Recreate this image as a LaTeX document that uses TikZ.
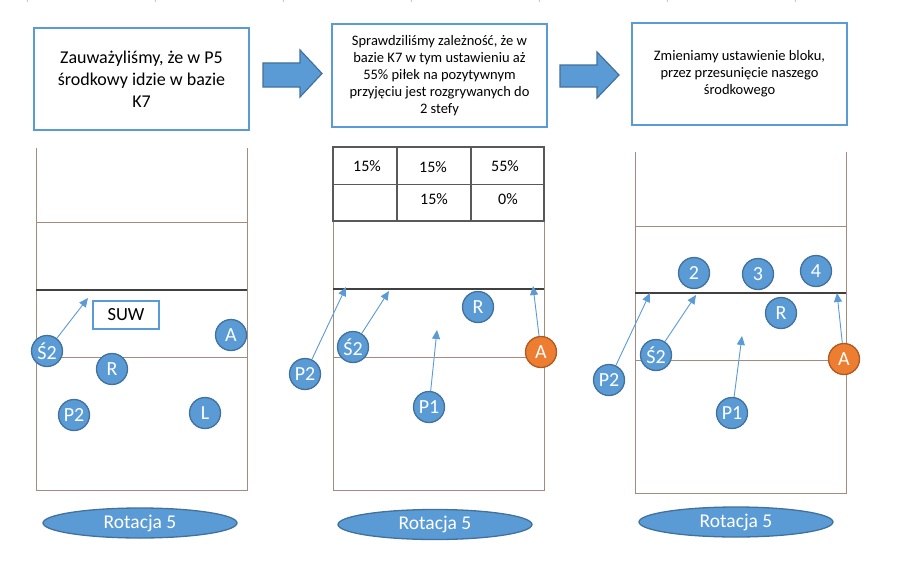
\documentclass[tikz,border=0pt]{standalone}
\usepackage{fontspec}
\setmainfont{Carlito}
\usetikzlibrary{arrows.meta,shapes.geometric}
\definecolor{pblue}{HTML}{5B9BD5}
\definecolor{pbord}{HTML}{41719C}
\definecolor{porange}{HTML}{ED7D31}
\definecolor{pobord}{HTML}{AE5A21}
\definecolor{courtc}{HTML}{A38C7E}
\definecolor{netc}{HTML}{404040}
\definecolor{tabc}{HTML}{595959}
\begin{document}
\begin{tikzpicture}[x=1pt,y=-1pt,
  player/.style={circle,fill=pblue,draw=pbord,line width=1.3pt,minimum size=31pt,inner sep=0pt,text=white,font=\fontsize{20}{20}\selectfont},
  opp/.style={player,fill=porange,draw=pobord},
  infobox/.style={draw=pblue,line width=1.8pt,fill=white,align=center,inner sep=0pt},
  bigtext/.style={font=\fontsize{18}{22}\selectfont},
  smalltext/.style={font=\fontsize{14.5}{17}\selectfont},
  courtline/.style={draw=courtc,line width=1pt},
  netline/.style={draw=netc,line width=1.8pt},
  tabline/.style={draw=tabc,line width=1.2pt},
  celltext/.style={font=\fontsize{16}{16}\selectfont,inner sep=0pt},
  movearrow/.style={draw=pblue,line width=0.9pt,-{Triangle[length=9pt,width=8pt]}},
  blockarrow/.style={fill=pblue,draw=pbord,line width=1.2pt,line join=miter},
  rotation/.style={ellipse,fill=pblue,draw=pbord,line width=1.3pt,minimum width=194pt,minimum height=30pt,inner sep=0pt,text=white,font=\fontsize{19.5}{19.5}\selectfont},
  suwbox/.style={draw=pblue,line width=1.5pt,minimum width=66pt,minimum height=28pt,inner sep=0pt,font=\fontsize{18.5}{18.5}\selectfont},
  tick/.style={draw=gray!45,line width=0.6pt}
]
\useasboundingbox (0,0) rectangle (912,586);
\fill[white] (0,0) rectangle (912,586);

% faint ruler ticks
\foreach \tx in {27,155,283,411,539,667,795}{\draw[tick] (\tx,0) -- (\tx,2.5);}

% ---------- info boxes ----------
\node[infobox,bigtext,minimum width=215pt,minimum height=102pt] (box1) at (141.5,79)
  {Zauważyliśmy, że w P5\\środkowy idzie w bazie\\K7};
\node[infobox,smalltext,minimum width=215pt,minimum height=103pt] (box2) at (439.5,75.5)
  {Sprawdziliśmy zależność, że w\\bazie K7 w tym ustawieniu aż\\55\% piłek na pozytywnym\\przyjęciu jest rozgrywanych do\\2 stefy};
\node[infobox,smalltext,minimum width=215pt,minimum height=102pt] (box3) at (739.5,74)
  {Zmieniamy ustawienie bloku,\\przez przesunięcie naszego\\środkowego};

% ---------- block arrows ----------
\filldraw[blockarrow] (263,63) -- (300,63) -- (300,50) -- (322,73.5) -- (300,97) -- (300,87) -- (263,87) -- cycle;
\filldraw[blockarrow] (560,65) -- (597,65) -- (597,52) -- (619,75) -- (597,98) -- (597,87) -- (560,87) -- cycle;

% ---------- court 1 ----------
\draw[courtline] (36,148) -- (36,490) -- (247,490) -- (247,148);
\draw[courtline] (36,222) -- (247,222);
\draw[courtline] (36,357) -- (247,357);
\draw[netline] (36,290) -- (247,290);

\node[suwbox] (suw) at (126,315) {SUW};
\coordinate (t1s) at (88,298);
\node[player] (a1) at (231,335) {A};
\node[player] (s1) at (47,351) {Ś2};
\node[player] (r1) at (112,369) {R};
\node[player] (p1b) at (74,415) {P2};
\node[player] (l1) at (205,413) {L};
\draw[movearrow] (s1) -- (t1s);

% ---------- court 2 ----------
\draw[courtline] (333,221) -- (333,490) -- (544,490) -- (544,221);
\draw[courtline] (333,357) -- (544,357);
\draw[netline] (333,289) -- (544,289);
\draw[tabline] (333,147) rectangle (544,221);
\draw[tabline] (397,147) -- (397,221);
\draw[tabline] (471,147) -- (471,221);
\draw[tabline] (333,184.5) -- (544,184.5);
\node[celltext] (c11) at (367,166) {15\%};
\node[celltext] (c12) at (433,167) {15\%};
\node[celltext] (c13) at (505,166) {55\%};
\node[celltext] (c22) at (434,199) {15\%};
\node[celltext] (c23) at (508,199) {0\%};

\coordinate (t2p2) at (346,287);
\coordinate (t2s) at (389,291);
\coordinate (t2p1) at (437,330);
\coordinate (t2a) at (533,286);
\node[player] (r2) at (478,307) {R};
\node[player] (s2) at (353,347) {Ś2};
\node[player] (p22) at (305,374) {P2};
\node[player] (p21) at (429,407) {P1};
\node[opp] (a2) at (541,352) {A};
\draw[movearrow] (p22) -- (t2p2);
\draw[movearrow] (s2) -- (t2s);
\draw[movearrow] (p21) -- (t2p1);
\draw[movearrow] (a2) -- (t2a);

% ---------- court 3 ----------
\draw[courtline] (635,152) -- (635,493) -- (846,493) -- (846,152);
\draw[courtline] (635,226) -- (846,226);
\draw[courtline] (635,360) -- (846,360);
\draw[netline] (635,293) -- (846,293);

\coordinate (t3p2) at (650,293);
\coordinate (t3s) at (696,295);
\coordinate (t3p1) at (742,336);
\coordinate (t3a) at (837,293);
\node[player] (n2) at (694,273) {2};
\node[player] (n3) at (758,274) {3};
\node[player] (n4) at (816,271) {4};
\node[player] (r3) at (781,313) {R};
\node[player] (s3) at (656,355) {Ś2};
\node[player] (p32) at (609,380) {P2};
\node[player] (p31) at (732,413) {P1};
\node[opp] (a3) at (844,359) {A};
\draw[movearrow] (p32) -- (t3p2);
\draw[movearrow] (s3) -- (t3s);
\draw[movearrow] (p31) -- (t3p1);
\draw[movearrow] (a3) -- (t3a);

% ---------- rotation labels ----------
\node[rotation] (rot1) at (140,523) {Rotacja 5};
\node[rotation] (rot2) at (435,524.5) {Rotacja 5};
\node[rotation] (rot3) at (736,522) {Rotacja 5};
\end{tikzpicture}
\end{document}
